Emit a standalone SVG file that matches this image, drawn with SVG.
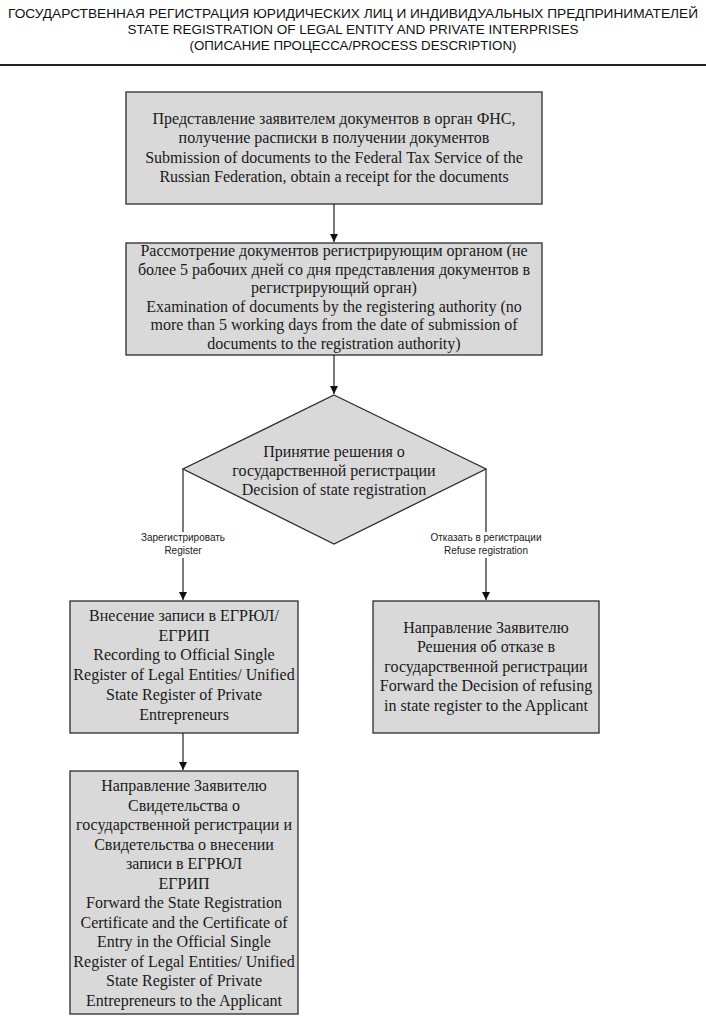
<svg xmlns="http://www.w3.org/2000/svg" width="706" height="1018" viewBox="0 0 706 1018">
<style>
.title{font-family:"Liberation Sans",Arial,sans-serif;font-size:13px;fill:#111;text-anchor:middle}
.box{fill:#d9d9d9;stroke:#2b2b2b;stroke-width:1.3}
.t{font-family:"Liberation Serif","Times New Roman",serif;font-size:16px;fill:#1a1a1a;text-anchor:middle}
.lbl{font-family:"Liberation Sans",Arial,sans-serif;font-size:10px;fill:#1a1a1a;text-anchor:middle}
.ln{stroke:#222;stroke-width:1.2;fill:none}
</style>
<defs>
<marker id="ah" viewBox="0 0 10 10" refX="10" refY="5" markerWidth="8" markerHeight="8" markerUnits="userSpaceOnUse" orient="auto">
<path d="M0,0 L10,5 L0,10 z" fill="#111"/>
</marker>
</defs>
<rect width="706" height="1018" fill="#ffffff"/>
<g id="header">
<text class="title" x="353" y="18" textLength="690" lengthAdjust="spacingAndGlyphs">ГОСУДАРСТВЕННАЯ РЕГИСТРАЦИЯ ЮРИДИЧЕСКИХ ЛИЦ И ИНДИВИДУАЛЬНЫХ ПРЕДПРИНИМАТЕЛЕЙ</text>
<text class="title" x="353" y="34" textLength="451" lengthAdjust="spacingAndGlyphs">STATE REGISTRATION OF LEGAL ENTITY AND PRIVATE INTERPRISES</text>
<text class="title" x="353" y="50" textLength="327" lengthAdjust="spacingAndGlyphs">(ОПИСАНИЕ ПРОЦЕССА/PROCESS DESCRIPTION)</text>
<line x1="0" y1="65" x2="706" y2="65" stroke="#222" stroke-width="2"/>
</g>
<g id="connectors">
<line class="ln" x1="334" y1="204" x2="334" y2="242" marker-end="url(#ah)"/>
<line class="ln" x1="334" y1="355" x2="334" y2="394" marker-end="url(#ah)"/>
<line class="ln" x1="183" y1="469" x2="183" y2="600" marker-end="url(#ah)"/>
<line class="ln" x1="486" y1="469" x2="486" y2="600" marker-end="url(#ah)"/>
<line class="ln" x1="183" y1="733" x2="183" y2="770" marker-end="url(#ah)"/>
<rect x="136" y="532" width="94" height="26" fill="#ffffff"/>
<text class="lbl" x="183" y="541">Зарегистрировать</text>
<text class="lbl" x="183" y="554">Register</text>
<rect x="424" y="532" width="124" height="26" fill="#ffffff"/>
<text class="lbl" x="486" y="541">Отказать в регистрации</text>
<text class="lbl" x="486" y="554">Refuse registration</text>
</g>
<g id="submission">
<rect class="box" x="126" y="92" width="416" height="112"/>
<text class="t" x="334" y="124">Представление заявителем документов в орган ФНС,</text>
<text class="t" x="334" y="143">получение расписки в получении документов</text>
<text class="t" x="334" y="163">Submission of documents to the Federal Tax Service of the</text>
<text class="t" x="334" y="182">Russian Federation, obtain a receipt for the documents</text>
</g>
<g id="examination">
<rect class="box" x="126" y="243" width="416" height="112"/>
<text class="t" x="334" y="256">Рассмотрение документов регистрирующим органом (не</text>
<text class="t" x="334" y="274.5">более 5 рабочих дней со дня представления документов в</text>
<text class="t" x="334" y="293">регистрирующий орган)</text>
<text class="t" x="334" y="311.5">Examination of documents by the registering authority (no</text>
<text class="t" x="334" y="330">more than 5 working days from the date of submission of</text>
<text class="t" x="334" y="348.5">documents to the registration authority)</text>
</g>
<g id="decision">
<polygon class="box" points="334,395 486,469 334,544 183,469"/>
<text class="t" x="334" y="457">Принятие решения о</text>
<text class="t" x="334" y="476">государственной регистрации</text>
<text class="t" x="334" y="495">Decision of state registration</text>
</g>
<g id="recording">
<rect class="box" x="70" y="601" width="228" height="132"/>
<text class="t" x="184" y="621">Внесение записи в ЕГРЮЛ/</text>
<text class="t" x="184" y="640.5">ЕГРИП</text>
<text class="t" x="184" y="660">Recording to Official Single</text>
<text class="t" x="184" y="680">Register of Legal Entities/ Unified</text>
<text class="t" x="184" y="700">State Register of Private</text>
<text class="t" x="184" y="720">Entrepreneurs</text>
</g>
<g id="refusal">
<rect class="box" x="373" y="601" width="226" height="132"/>
<text class="t" x="486" y="633">Направление Заявителю</text>
<text class="t" x="486" y="652">Решения об отказе в</text>
<text class="t" x="486" y="672">государственной регистрации</text>
<text class="t" x="486" y="691">Forward the Decision of refusing</text>
<text class="t" x="486" y="711">in state register to the Applicant</text>
</g>
<g id="certificate">
<rect class="box" x="70" y="771" width="228" height="243"/>
<text class="t" x="184" y="791">Направление Заявителю</text>
<text class="t" x="184" y="810.5">Свидетельства о</text>
<text class="t" x="184" y="830">государственной регистрации и</text>
<text class="t" x="184" y="849.5">Свидетельства о внесении</text>
<text class="t" x="184" y="869">записи в ЕГРЮЛ</text>
<text class="t" x="184" y="888.5">ЕГРИП</text>
<text class="t" x="184" y="908">Forward the State Registration</text>
<text class="t" x="184" y="927.5">Certificate and the Certificate of</text>
<text class="t" x="184" y="947">Entry in the Official Single</text>
<text class="t" x="184" y="966.5">Register of Legal Entities/ Unified</text>
<text class="t" x="184" y="986">State Register of Private</text>
<text class="t" x="184" y="1005.5">Entrepreneurs to the Applicant</text>
</g>
</svg>
